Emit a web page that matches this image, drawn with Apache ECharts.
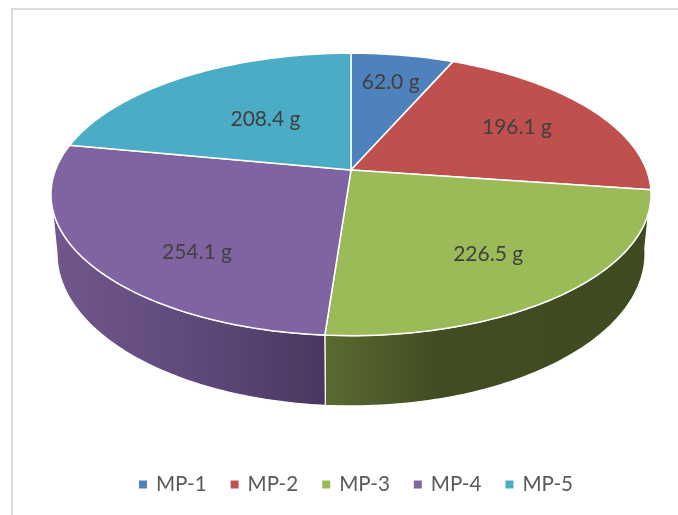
<!DOCTYPE html>
<html>
<head>
<meta charset="utf-8">
<style>html,body{margin:0;padding:0;background:#fff}#c{width:678px;height:515px}</style>
<script src="https://cdn.jsdelivr.net/npm/echarts@6/dist/echarts.min.js"></script>
</head>
<body>
<div id="c"></div>
<script>
var categories = ['MP-1', 'MP-2', 'MP-3', 'MP-4', 'MP-5'];
var values = [62.0, 196.1, 226.5, 254.1, 208.4];
var colors = ['#4f81bd', '#c0504d', '#9bbb59', '#8064a2', '#4bacc6'];
var labelRadius = [0.74, 0.68, 0.695, 0.72, 0.5];
var labelAngleShift = [0, 0, 1.7, -11.5, 1.4];

var total = values.reduce(function (a, b) { return a + b; }, 0);
var starts = [];
values.reduce(function (acc, v, i) { starts[i] = acc; return acc + v; }, 0);

var P = { cx: 351, cy: 170, rx: 295.5, ry: 137, k: 0.173 };
var B = { sx: 0.98, sy: 1.08, dy: 57 };
var WALL = [98, 260];
var DEG = Math.PI / 180;
function top3d(t, f) {
  var X = f * Math.sin(t * DEG), Y = -f * Math.cos(t * DEG), w = 1 - P.k * Y;
  return [P.cx + P.rx * X / w, P.cy + P.ry * Y / w];
}
function bot3d(t) {
  var X = Math.sin(t * DEG), Y = -Math.cos(t * DEG), w = 1 - P.k * Y;
  return [P.cx + B.sx * P.rx * X / w, P.cy + B.dy + B.sy * P.ry * Y / w];
}
function angle(v) { return v / total * 360; }

function topSlice(i) {
  return function (params, api) {
    var v = api.value(0);
    var a0 = angle(starts[i]), a1 = a0 + angle(v);
    var pts = [top3d(0, 0)];
    for (var t = a0; t < a1; t += 1) pts.push(top3d(t, 1));
    pts.push(top3d(a1, 1));
    var mid = top3d((a0 + a1) / 2 + labelAngleShift[i], labelRadius[i]);
    return {
      type: 'group',
      children: [
        { type: 'polygon', shape: { points: pts },
          style: { fill: colors[i], stroke: '#fff', lineWidth: 1.5, lineJoin: 'round' } },
        { type: 'text', z2: 50,
          style: { x: mid[0], y: mid[1], text: v.toFixed(1) + ' g', fill: '#404040',
                   font: '21px Lato, sans-serif', align: 'center', verticalAlign: 'middle' } }
      ]
    };
  };
}
var wallFill = {
  2: [[0, '#5a6b30'], [0.35, '#414c22'], [1, '#3e4a20']],
  3: [[0, '#71578c'], [0.5, '#604a7c'], [1, '#4a3760']]
};
function wallItem(params, api) {
  var i = api.value(0);
  var a0 = Math.max(angle(starts[i]), WALL[0]);
  var a1 = Math.min(angle(starts[i] + values[i]), WALL[1]);
  if (a1 <= a0 || !wallFill[i]) return { type: 'group', children: [] };
  var pts = [], t;
  for (t = a0; t < a1; t += 1) pts.push(top3d(t, 1));
  pts.push(top3d(a1, 1));
  pts.push(bot3d(a1));
  for (t = a1 - 1; t > a0; t -= 1) pts.push(bot3d(t));
  pts.push(bot3d(a0));
  var stops = wallFill[i].map(function (s) { return { offset: s[0], color: s[1] }; });
  return { type: 'polygon', shape: { points: pts },
    style: { fill: new echarts.graphic.LinearGradient(0, 0, 1, 0, stops),
      stroke: '#fff', lineWidth: 1.2, lineJoin: 'round' } };
}

var series = [{
  type: 'custom', coordinateSystem: 'none', z: 1, silent: true, animation: false,
  renderItem: wallItem, data: categories.map(function (c, i) { return [i]; })
}];
categories.forEach(function (c, i) {
  series.push({
    type: 'custom', name: c, coordinateSystem: 'none', z: 2, silent: true, animation: false,
    itemStyle: { color: colors[i] }, renderItem: topSlice(i), data: [[values[i]]]
  });
});

var chart = echarts.init(document.getElementById('c'), null, { renderer: 'canvas' });
chart.setOption({
  backgroundColor: '#fff',
  animation: false,
  color: colors,
  legend: {
    data: categories.map(function (c) { return { name: c, icon: 'rect' }; }),
    left: 139, top: 474, padding: 0, itemWidth: 8, itemHeight: 8, itemGap: 24, selectedMode: false,
    textStyle: { color: '#595959', fontSize: 20.6, fontFamily: 'Lato, sans-serif', padding: [0, 0, 0, 4] }
  },
  graphic: [
    { type: 'polyline', silent: true, z: 0, shape: { points: [[12, 515], [12, 9], [678, 9]] },
      style: { fill: null, stroke: '#dcdcdc', lineWidth: 2 } }
  ],
  series: series
});
</script>
</body>
</html>
